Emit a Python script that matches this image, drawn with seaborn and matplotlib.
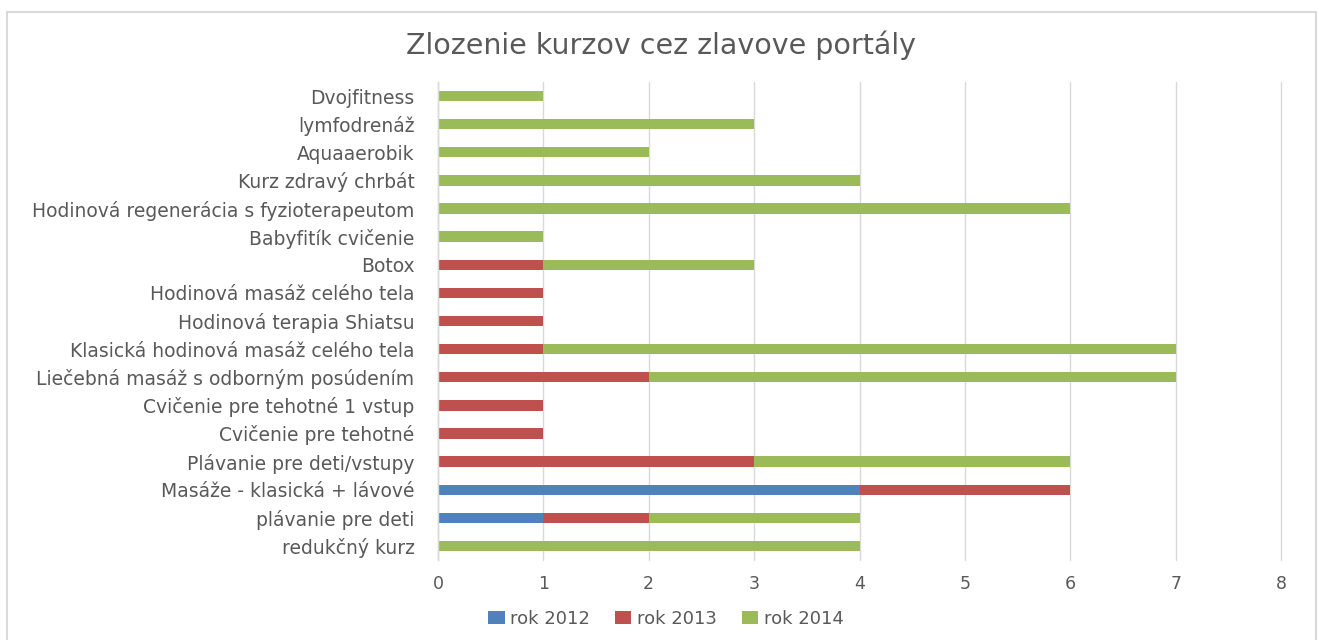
import matplotlib
matplotlib.use("Agg")
import matplotlib.pyplot as plt
import seaborn as sns
import pandas as pd
import numpy as np
from matplotlib.patches import Rectangle, Patch

categories = [
    "Dvojfitness",
    "lymfodrenáž",
    "Aquaaerobik",
    "Kurz zdravý chrbát",
    "Hodinová regenerácia s fyzioterapeutom",
    "Babyfitík cvičenie",
    "Botox",
    "Hodinová masáž celého tela",
    "Hodinová terapia Shiatsu",
    "Klasická hodinová masáž celého tela",
    "Liečebná masáž s odborným posúdením",
    "Cvičenie pre tehotné 1 vstup",
    "Cvičenie pre tehotné",
    "Plávanie pre deti/vstupy",
    "Masáže - klasická + lávové",
    "plávanie pre deti",
    "redukčný kurz",
]
rok_2012 = [0, 0, 0, 0, 0, 0, 0, 0, 0, 0, 0, 0, 0, 0, 4, 1, 0]
rok_2013 = [0, 0, 0, 0, 0, 0, 1, 1, 1, 1, 2, 1, 1, 3, 2, 1, 0]
rok_2014 = [1, 3, 2, 4, 6, 1, 2, 0, 0, 6, 5, 0, 0, 3, 0, 2, 4]
series_names = ["rok 2012", "rok 2013", "rok 2014"]
colors = ["#4F81BD", "#C0504D", "#9BBB59"]

sns.set_theme(style="white")
plt.rcParams["font.family"] = ["DejaVu Sans"]
text_color = "#595959"

df = pd.DataFrame({"cat": categories, "a": rok_2012, "b": rok_2013, "c": rok_2014})
df["c_cum"] = df["a"] + df["b"] + df["c"]
df["b_cum"] = df["a"] + df["b"]
df["a_cum"] = df["a"]

fig = plt.figure(figsize=(13.19, 6.4), dpi=100)
ax = fig.add_axes([438/1319, 1-560/640, (1281-438)/1319, (560-82)/640])

w = 0.37
for col, color in zip(["c_cum", "b_cum", "a_cum"], colors[::-1]):
    sns.barplot(data=df, y="cat", x=col, orient="h", color=color, width=w,
                ax=ax, order=categories, saturation=1, linewidth=0)

ax.set_xlim(0, 8)
ax.set_ylim(len(categories)-0.5, -0.5)
ax.set_xticks(range(0, 9))
ax.xaxis.grid(True, color="#D9D9D9", linewidth=1)
for gl in ax.get_xgridlines():
    gl.set_clip_on(False)
ax.set_axisbelow(True)
for s in ["top", "right", "bottom"]:
    ax.spines[s].set_visible(False)
ax.spines["left"].set_color("#D9D9D9")
ax.spines["left"].set_linewidth(1)
ax.set_xlabel("")
ax.set_ylabel("")
ax.tick_params(axis="x", colors=text_color, labelsize=12.5, length=0, pad=11)
ax.tick_params(axis="y", colors=text_color, labelsize=13.5, length=0, pad=17)

fig.text(661/1319, 1-45/640, "Zlozenie kurzov cez zlavove portály", ha="center", va="center",
         fontsize=20.5, color=text_color)

handles = [Patch(facecolor=c, edgecolor="none") for c in colors]
fig.legend(handles, series_names, loc="center", bbox_to_anchor=(666/1319, 1-619/640), ncol=3,
           frameon=False, fontsize=13, labelcolor=text_color, handlelength=0.9, handleheight=0.7,
           handletextpad=0.3, columnspacing=1.4)

fig.patches.append(Rectangle((7/1319, -0.02), (1316-7)/1319, 1-12/640+0.02, transform=fig.transFigure,
                             fill=False, edgecolor="#D9D9D9", linewidth=1.5))

fig.savefig("out.png", dpi=100)
